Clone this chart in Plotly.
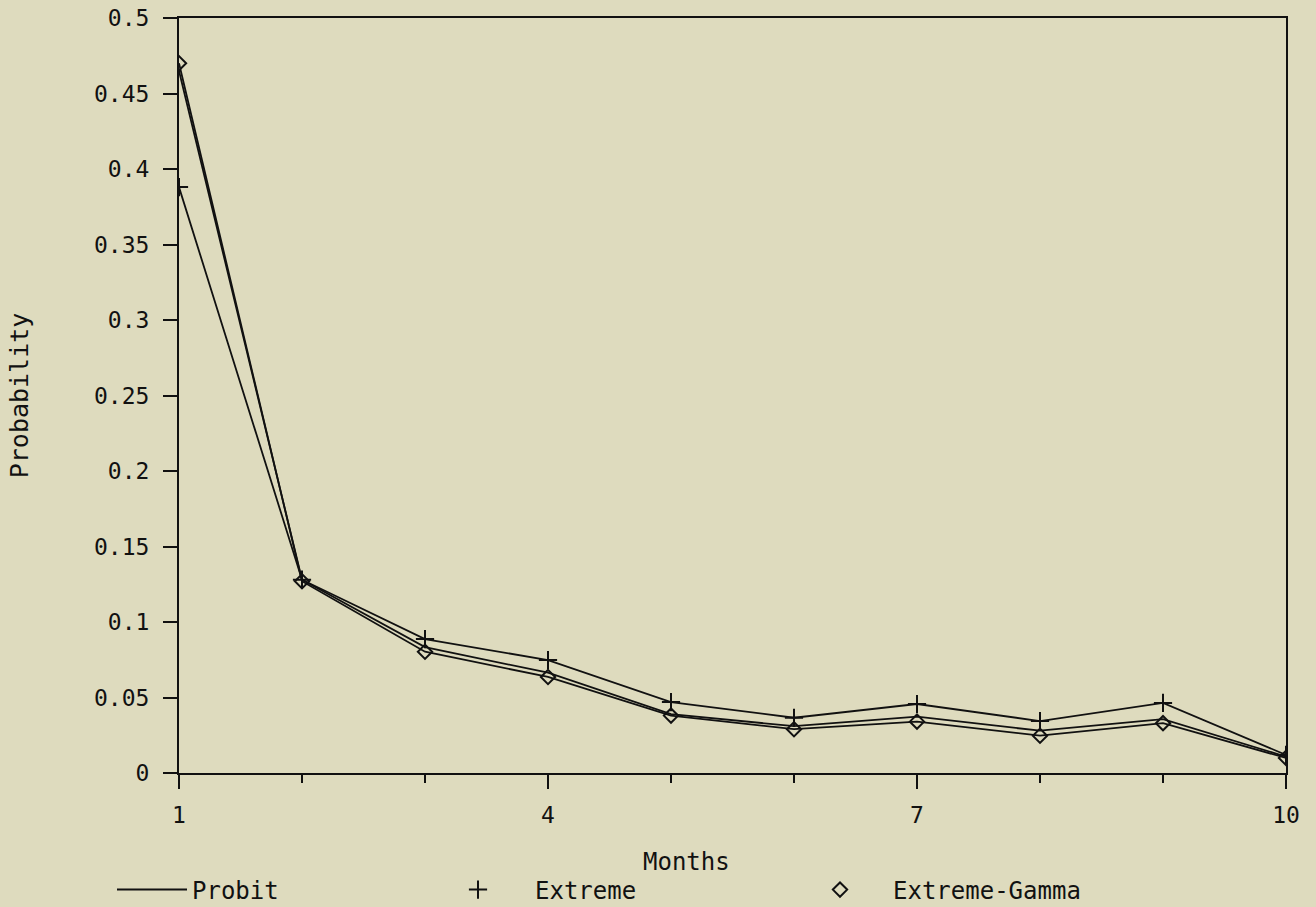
import plotly.graph_objects as go

months = [1, 2, 3, 4, 5, 6, 7, 8, 9, 10]
probit = [0.465, 0.128, 0.0834, 0.0664, 0.039, 0.031, 0.0373, 0.028, 0.0357, 0.0108]
extreme = [0.388, 0.128, 0.0887, 0.0748, 0.047, 0.0366, 0.0457, 0.0344, 0.0464, 0.012]
extreme_gamma = [0.470, 0.127, 0.0803, 0.0636, 0.0380, 0.029, 0.034, 0.0247, 0.033, 0.010]
y_ticks = [0, 0.05, 0.1, 0.15, 0.2, 0.25, 0.3, 0.35, 0.4, 0.45, 0.5]
y_tick_labels = ["0", "0.05", "0.1", "0.15", "0.2", "0.25", "0.3", "0.35", "0.4", "0.45", "0.5"]
x_ticks = [1, 4, 7, 10]

BG = "#DEDBBE"
INK = "#111111"
FONT = "DejaVu Sans Mono"
LW = 1.8
W, H = 1316, 907

cross = dict(symbol="cross-thin-open", size=13, color=INK, line=dict(color=INK, width=2))
diamond = dict(symbol="diamond-open", size=11, color=INK, line=dict(color=INK, width=2))

fig = go.Figure()
fig.add_trace(go.Scatter(x=months, y=probit, mode="lines", line=dict(color=INK, width=LW),
                         showlegend=False))
fig.add_trace(go.Scatter(x=months, y=extreme, mode="lines+markers", line=dict(color=INK, width=LW),
                         marker=cross, showlegend=False))
fig.add_trace(go.Scatter(x=months, y=extreme_gamma, mode="lines+markers", line=dict(color=INK, width=LW),
                         marker=diamond, showlegend=False))

# legend entries (one legend each so they can be placed independently)
fig.add_trace(go.Scatter(x=[None], y=[None], mode="lines", name="Probit",
                         line=dict(color=INK, width=2), legend="legend"))
fig.add_trace(go.Scatter(x=[None], y=[None], mode="markers", name="Extreme",
                         marker=cross, legend="legend2"))
fig.add_trace(go.Scatter(x=[None], y=[None], mode="markers", name="Extreme-Gamma",
                         marker=diamond, legend="legend3"))

leg_common = dict(orientation="h", xref="container", yref="container",
                  y=1 - 890 / H, xanchor="left", yanchor="middle",
                  bgcolor="rgba(0,0,0,0)", borderwidth=0,
                  font=dict(family=FONT, size=24, color=INK))

fig.update_layout(
    width=W, height=H,
    margin=dict(l=179, r=30, t=18, b=134, autoexpand=False),
    paper_bgcolor=BG, plot_bgcolor=BG,
    font=dict(family=FONT, size=23, color=INK),
    legend=dict(x=112 / W, itemwidth=70, **leg_common),
    legend2=dict(x=421 / W, itemwidth=104, **leg_common),
    legend3=dict(x=787 / W, itemwidth=96, **leg_common),
    xaxis=dict(range=[1, 10], tickmode="array", tickvals=x_ticks,
               ticks="outside", ticklen=14, tickwidth=2, tickcolor=INK,
               minor=dict(tickmode="array", tickvals=months, ticks="outside", ticklen=8,
                          tickwidth=2, tickcolor=INK),
               showline=True, linecolor=INK, linewidth=2, mirror=True,
               showgrid=False, zeroline=False, ticklabelstandoff=6,
               tickfont=dict(family=FONT, size=23)),
    yaxis=dict(range=[0, 0.5], tickmode="array", tickvals=y_ticks, ticktext=y_tick_labels,
               ticks="outside", ticklen=14, tickwidth=2, tickcolor=INK,
               showline=True, linecolor=INK, linewidth=2, mirror=True,
               showgrid=False, zeroline=False, ticklabelstandoff=9, automargin=False,
               title=dict(text="Probability", standoff=58, font=dict(family=FONT, size=25)),
               tickfont=dict(family=FONT, size=23)),
    annotations=[dict(text="Months", xref="paper", yref="paper",
                      x=(686 - 179) / (W - 179 - 30), y=(773 - 862) / (773 - 18),
                      xanchor="center", yanchor="middle", showarrow=False,
                      font=dict(family=FONT, size=24, color=INK))],
)

fig.write_html("out.html")
